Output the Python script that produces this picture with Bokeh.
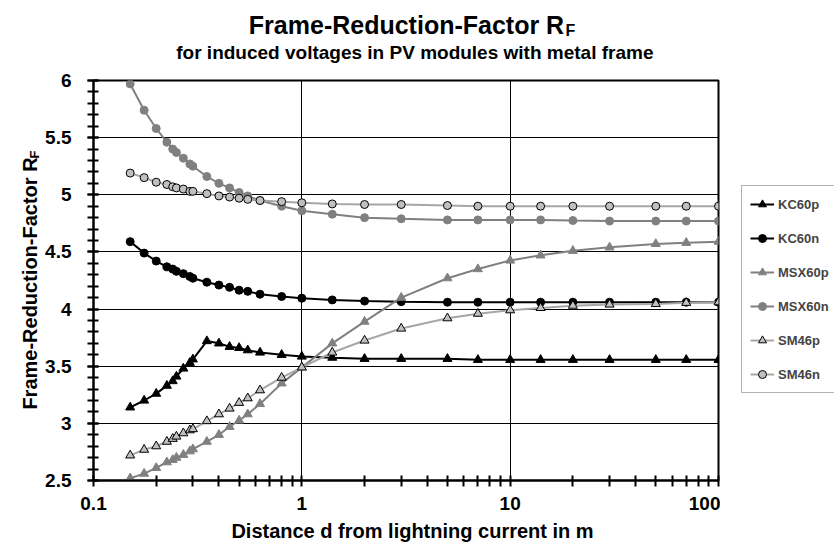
import math
from bokeh.plotting import figure
from bokeh.layouts import column, row
from bokeh.models import (FixedTicker, SingleIntervalTicker, CustomJSTickFormatter, Legend,
                          LegendItem, Range1d, ColumnDataSource)
from bokeh.core.properties import value
from bokeh.embed import file_html
from bokeh.resources import INLINE

# ---------------- data ----------------
distance = [0.15, 0.175, 0.2, 0.225, 0.24, 0.25, 0.27, 0.29, 0.3, 0.35, 0.4, 0.45, 0.5, 0.55,
            0.63, 0.8, 1, 1.4, 2, 3, 5, 7, 10, 14, 20, 30, 50, 70, 100]

kc60p = [3.14, 3.20, 3.26, 3.33, 3.37, 3.41, 3.48, 3.53, 3.56, 3.72, 3.70, 3.67, 3.66, 3.64,
         3.62, 3.60, 3.585, 3.575, 3.565, 3.565, 3.565, 3.556, 3.556, 3.556, 3.556, 3.556,
         3.556, 3.556, 3.556]
kc60n = [4.59, 4.49, 4.42, 4.37, 4.35, 4.33, 4.31, 4.285, 4.27, 4.235, 4.21, 4.19, 4.165,
         4.155, 4.13, 4.11, 4.095, 4.08, 4.07, 4.065, 4.06, 4.06, 4.06, 4.06, 4.06, 4.06,
         4.06, 4.06, 4.06]
msx60p = [2.52, 2.56, 2.61, 2.66, 2.68, 2.70, 2.725, 2.756, 2.774, 2.84, 2.90, 2.97, 3.025,
          3.08, 3.17, 3.35, 3.49, 3.70, 3.89, 4.10, 4.27, 4.35, 4.425, 4.47, 4.51, 4.54,
          4.57, 4.58, 4.59]
msx60n = [5.97, 5.74, 5.58, 5.46, 5.40, 5.37, 5.32, 5.27, 5.25, 5.16, 5.10, 5.06, 5.02,
          4.99, 4.95, 4.90, 4.86, 4.83, 4.80, 4.79, 4.78, 4.78, 4.78, 4.78, 4.775, 4.77,
          4.77, 4.77, 4.77]
sm46p = [2.72, 2.77, 2.80, 2.84, 2.865, 2.885, 2.914, 2.94, 2.95, 3.02, 3.08, 3.13, 3.18,
         3.22, 3.29, 3.40, 3.49, 3.62, 3.725, 3.83, 3.92, 3.96, 3.99, 4.01, 4.03, 4.04,
         4.045, 4.055, 4.06]
sm46n = [5.19, 5.15, 5.11, 5.09, 5.07, 5.06, 5.05, 5.03, 5.03, 5.01, 4.99, 4.98, 4.97,
         4.96, 4.95, 4.94, 4.93, 4.92, 4.915, 4.915, 4.906, 4.90, 4.90, 4.90, 4.90, 4.90,
         4.90, 4.90, 4.90]

series_names = ["KC60p", "KC60n", "MSX60p", "MSX60n", "SM46p", "SM46n"]
x_major_ticks = [0.1, 1, 10, 100]

title_text = "Frame-Reduction-Factor R"
subtitle_text = "for  induced voltages in PV modules with metal frame"
xlabel_text = "Distance d from lightning current in m"
ylabel_text = "Frame-Reduction-Factor R"
sub_text = "F"

FONT = "Liberation Sans"
TOP_B, BOT_B = 10, 38          # borders of the plots in the middle row
ROW_H = 448
FRAME_H = ROW_H - TOP_B - BOT_B

# ---------------- helper: plain text panel (pixel coordinates) ----------------
def text_panel(w, h, top_b=0, bot_b=0):
    f = figure(width=w, height=h, x_range=Range1d(0, w),
               y_range=Range1d(0, h - top_b - bot_b),
               output_backend="svg", toolbar_location=None, min_border_left=0,
               min_border_right=0, min_border_top=top_b, min_border_bottom=bot_b,
               x_axis_location=None, y_axis_location=None)
    f.grid.visible = False
    f.outline_line_color = None
    f.background_fill_color = "white"
    f.border_fill_color = "white"
    return f

def put(f, x, y, text, size, angle=0.0):
    f.text(x=[x], y=[y], text=[text], angle=angle, text_font=value(FONT),
           text_font_style="bold", text_font_size=value(size), text_align="center",
           text_baseline="middle", text_color="black")

# top: title + subtitle (canvas y 0..70)
top = text_panel(834, 70)
put(top, 406, 46, title_text, "25px")
put(top, 570, 40, sub_text, "16px")
put(top, 417, 18, subtitle_text, "19px")

# left: y axis label (canvas x 0..42; frame spans canvas y 80..480)
left = text_panel(42, ROW_H, TOP_B, BOT_B)
put(left, 29, 197, ylabel_text, "20px", angle=math.pi / 2)
put(left, 34, 326, sub_text, "13px", angle=math.pi / 2)

# bottom: x axis label (canvas y 518..548)
bottom = text_panel(834, 30)
put(bottom, 412, 18, xlabel_text, "20px")

# ---------------- main chart (canvas x 42..720) ----------------
p = figure(width=678, height=ROW_H, x_axis_type="log",
           x_range=Range1d(0.1, 100), y_range=Range1d(2.5, 6),
           output_backend="svg", toolbar_location=None,
           min_border_left=50, min_border_right=2, min_border_top=TOP_B,
           min_border_bottom=BOT_B)
p.background_fill_color = "white"
p.border_fill_color = "white"
p.outline_line_color = "black"
p.outline_line_width = 2

minor = [m * 10 ** e for e in (-1, 0, 1) for m in range(2, 10)]
p.xaxis.ticker = FixedTicker(ticks=x_major_ticks, minor_ticks=minor)
p.yaxis.ticker = SingleIntervalTicker(interval=0.5, num_minor_ticks=5)
p.xaxis.formatter = CustomJSTickFormatter(code="return String(Math.round(tick*100)/100);")
p.yaxis.formatter = CustomJSTickFormatter(code="return String(Math.round(tick*100)/100);")

for ax in (p.xaxis[0], p.yaxis[0]):
    ax.axis_line_color = "black"
    ax.axis_line_width = 2
    ax.major_tick_line_color = "black"
    ax.major_tick_line_width = 2
    ax.minor_tick_line_color = "black"
    ax.minor_tick_line_width = 2
    ax.major_tick_in = 5
    ax.major_tick_out = 6
    ax.minor_tick_in = 5
    ax.minor_tick_out = 6
    ax.major_label_text_font = FONT
    ax.major_label_text_font_style = "bold"
    ax.major_label_text_font_size = "19px"
    ax.major_label_text_color = "black"
p.xaxis.major_label_standoff = 10
p.yaxis.major_label_standoff = 16

for g in (p.xgrid[0], p.ygrid[0]):
    g.grid_line_color = "black"
    g.grid_line_width = 1

src = ColumnDataSource(dict(x=distance, kc60p=kc60p, kc60n=kc60n, msx60p=msx60p,
                            msx60n=msx60n, sm46p=sm46p, sm46n=sm46n))

styles = [
    ("kc60p", "black", "triangle", "black", "black", 9),
    ("kc60n", "black", "circle", "black", "black", 8),
    ("msx60p", "#808080", "triangle", "#808080", "#808080", 9),
    ("msx60n", "#808080", "circle", "#808080", "#808080", 8),
    ("sm46p", "#a6a6a6", "triangle", "#c0c0c0", "black", 9),
    ("sm46n", "#a6a6a6", "circle", "#c0c0c0", "black", 8),
]

# legend panel (canvas x 720..834); its legend glyphs reuse the same data on an
# off-screen range so only the legend swatches are visible there
leg = text_panel(114, ROW_H, TOP_B, BOT_B)
leg.extra_x_ranges = {"off": Range1d(1000, 2000)}
items = []
for name, (col, lc, mk, fc, mlc, sz) in zip(series_names, styles):
    p.line("x", col, source=src, line_color=lc, line_width=2)
    p.scatter("x", col, source=src, marker=mk, size=sz, fill_color=fc,
              line_color=mlc, line_width=1)
    lr = leg.line("x", col, source=src, line_color=lc, line_width=2, x_range_name="off")
    sr = leg.scatter("x", col, source=src, marker=mk, size=sz, fill_color=fc,
                     line_color=mlc, line_width=1, x_range_name="off")
    items.append(LegendItem(label=name, renderers=[lr, sr]))

legend = Legend(items=items, location=(21, 87))
legend.label_text_font = FONT
legend.label_text_font_style = "bold"
legend.label_text_font_size = "13px"
legend.glyph_width = 24
legend.glyph_height = 20
legend.label_height = 20
legend.spacing = 14
legend.padding = 8
legend.margin = 0
legend.label_standoff = 4
legend.border_line_color = "#666666"
legend.border_line_width = 1
legend.background_fill_color = "white"
legend.background_fill_alpha = 1
leg.add_layout(legend, "center")

layout = column(top, row(left, p, leg, spacing=0), bottom, spacing=0)
open("out.html", "w").write(file_html(layout, INLINE))
